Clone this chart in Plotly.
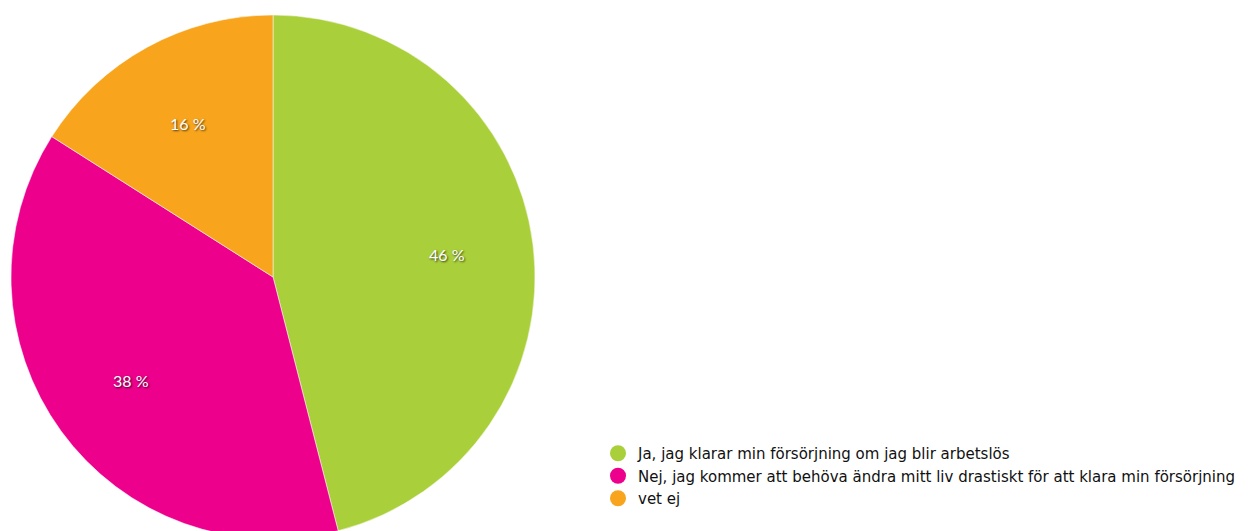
import math
import plotly.graph_objects as go

categories = [
    "Ja, jag klarar min försörjning om jag blir arbetslös",
    "Nej, jag kommer att behöva ändra mitt liv drastiskt för att klara min försörjning",
    "vet ej",
]
values = [46, 38, 16]
colors = ["#A9CF3A", "#EC008C", "#F8A51D"]

W, H = 1260, 540
dom_x = [11 / W, 535 / W]
dom_y = [1 / H, 1 - 15 / H]

fig = go.Figure()
fig.add_trace(go.Pie(
    labels=categories,
    values=values,
    sort=False,
    direction="clockwise",
    rotation=0,
    marker=dict(colors=colors, line=dict(color="white", width=0.5)),
    textinfo="none",
    domain=dict(x=dom_x, y=dom_y),
    showlegend=False,
    hoverinfo="label+percent",
))

# percentage labels placed at mid-angle of each slice
cx = (dom_x[0] + dom_x[1]) / 2
cy = (dom_y[0] + dom_y[1]) / 2
R = min((dom_x[1] - dom_x[0]) * W, (dom_y[1] - dom_y[0]) * H) / 2
total = sum(values)
cum = 0
for v in values:
    mid = (cum + v / 2) / total * 2 * math.pi
    cum += v
    r = 0.67 * R
    fig.add_annotation(
        x=cx + r * math.sin(mid) / W, y=cy + r * math.cos(mid) / H,
        xref="paper", yref="paper", showarrow=False,
        xanchor="center", yanchor="middle",
        text=f"{v} %",
        font=dict(family="Lato", size=16, color="white",
                  shadow="1px 1px 2px rgba(0,0,0,0.7)"),
    )

for name, col in zip(categories, colors):
    fig.add_trace(go.Scatter(
        x=[None], y=[None], mode="markers", name=name,
        marker=dict(symbol="circle", size=16, color=col),
        showlegend=True,
    ))

fig.update_layout(
    width=W, height=H,
    margin=dict(l=0, r=0, t=0, b=0),
    paper_bgcolor="white", plot_bgcolor="white",
    xaxis=dict(visible=False), yaxis=dict(visible=False),
    font=dict(family="DejaVu Sans", size=15, color="#111"),
    legend=dict(
        x=598 / W, y=1 - 437 / H, xanchor="left", yanchor="top",
        bgcolor="rgba(0,0,0,0)", itemsizing="trace",
        tracegroupgap=0, font=dict(size=15),
    ),
)

fig.write_html(
    "out.html",
    config={"displayModeBar": False},
    post_script="document.body.style.margin='0';document.body.style.overflow='hidden';",
)
